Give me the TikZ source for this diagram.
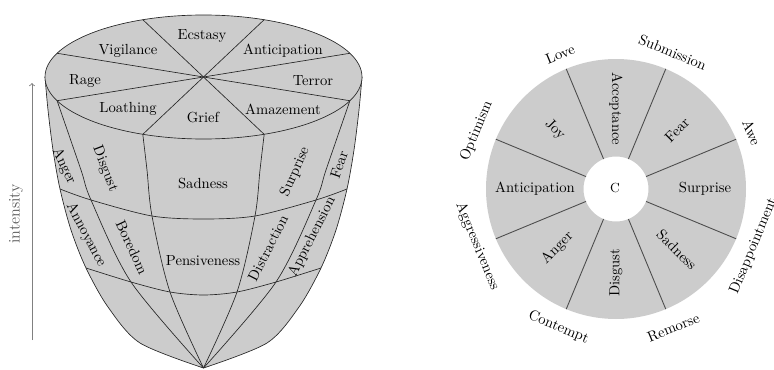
\documentclass[tikz,border=0pt]{standalone}
\usepackage{tikz}

\begin{document}
\begin{tikzpicture}[x=0.024cm, y=0.024cm,
    region/.style={fill=gray!40},
    grid/.style={line width=0.45pt, draw=black!85},
    spoke/.style={line width=0.6pt, draw=black!70}]
    \useasboundingbox (0,0) rectangle (774,369);

    % Intensity axis
    \coordinate (axisfoot) at (32, 29);
    \coordinate (axishead) at (32, 286);
    \draw[->, gray, line width=0.6pt] (axisfoot) -- (axishead);
    \node[rotate=90, black!65, font=\fontsize{11}{13}\selectfont] (intensity) at (16, 155) {intensity};

    % Body of the cone
    \coordinate (apex) at (203.5, 1);
    \fill[region] plot[smooth] coordinates {(45,292) (48,259) (53,219) (60,180) (71,139) (86,101) (108,62) (140,26) (203.5,1)}
        -- plot[smooth] coordinates {(203.5,1) (267,26) (299,62) (321,101) (336,139) (347,180) (354,219) (359,259) (362,292)} -- cycle;

    % Meridians
    \draw[grid] plot[smooth] coordinates {(57.1,268.3) (81,199) (91,169) (131,87) (203.5,1)};
    \draw[grid] plot[smooth] coordinates {(142.8,234.7) (147,199) (152,153) (170,77) (203.5,1)};
    \draw[grid] plot[smooth] coordinates {(264.2,234.7) (260,199) (255,153) (237,77) (203.5,1)};
    \draw[grid] plot[smooth] coordinates {(349.9,268.3) (326,199) (316,169) (276,87) (203.5,1)};

    % Rings
    \draw[grid] plot[smooth] coordinates {(60,180) (91,169) (152,153) (203.5,150) (255,153) (316,169) (347,180)};
    \draw[grid] plot[smooth] coordinates {(86,101) (131,87) (170,77) (203.5,74) (237,77) (276,87) (321,101)};

    % Outline
    \draw[grid] plot[smooth] coordinates {(45,292) (48,259) (53,219) (60,180) (71,139) (86,101) (108,62) (140,26) (203.5,1)};
    \draw[grid] plot[smooth] coordinates {(203.5,1) (267,26) (299,62) (321,101) (336,139) (347,180) (354,219) (359,259) (362,292)};

    % Top face
    \coordinate (top) at (203.5, 292);
    \filldraw[region, grid] (top) ellipse [x radius=158.5, y radius=62];
    \begin{scope}[shift={(top)}]
        \foreach \a in {22.5, 67.5, 112.5, 157.5}
            \draw[grid] (\a:158.5 and 62) -- (\a+180:158.5 and 62);
    \end{scope}

    % Nodes top face
    \node (ecstasy) at (202, 333) {Ecstasy};
    \node (vigilance) at (128, 318) {Vigilance};
    \node (anticipation) at (283, 318) {Anticipation};
    \node (rage) at (85, 288) {Rage};
    \node (terror) at (313, 288) {Terror};
    \node (loathing) at (128, 260) {Loathing};
    \node (grief) at (203, 252) {Grief};
    \node (amazement) at (283, 260) {Amazement};

    % Nodes sides
    \node[rotate=-65] (anger) at (64, 203) {Anger};
    \node[rotate=-69] (disgust) at (105, 200) {Disgust};
    \node (sadness) at (203, 186) {Sadness};
    \node[rotate=66] (surprise) at (295, 197) {Surprise};
    \node[rotate=71] (fear) at (339, 204) {Fear};
    \node[rotate=-62] (annoyance) at (86, 134) {Annoyance};
    \node[rotate=-65] (boredom) at (132, 122) {Boredom};
    \node (pensiveness) at (203, 108) {Pensiveness};
    \node[rotate=63] (distraction) at (268, 121) {Distraction};
    \node[rotate=63] (apprehension) at (312, 132) {Apprehension};

    % Wheel
    \coordinate (hub) at (616, 180);
    \fill[region, even odd rule] (hub) circle[radius=130] (hub) circle[radius=32.5];
    \begin{scope}[shift={(hub)}]
        \foreach \a in {22.5, 67.5, ..., 337.5}
            \draw[spoke] (\a:32.5) -- (\a:130);

        \node[font=\small] (centre) at (-1, 1) {C};

        % Nodes inside the ring
        \node[rotate=-90] (w-acceptance) at (90:80) {Acceptance};
        \node[rotate=45] (w-fear) at (44:85) {Fear};
        \node (w-surprise) at (0:89) {Surprise};
        \node[rotate=-45] (w-sadness) at (-45:86) {Sadness};
        \node[rotate=90] (w-disgust) at (-90:84) {Disgust};
        \node[rotate=45] (w-anger) at (-135:83) {Anger};
        \node (w-anticipation) at (180:81) {Anticipation};
        \node[rotate=-45] (w-joy) at (136:85) {Joy};

        % Nodes around the ring
        \node[rotate=22.5] (love) at (112.5:146) {Love};
        \node[rotate=-22.5] (submission) at (67.5:148) {Submission};
        \node[rotate=-67.5] (awe) at (22.5:147) {Awe};
        \node[rotate=67.5] (disappointment) at (-22.5:149) {Disappointment};
        \node[rotate=22.5] (remorse) at (-67.5:150) {Remorse};
        \node[rotate=-22.5] (contempt) at (-112.5:150) {Contempt};
        \node[rotate=-67.5] (aggressiveness) at (-157.5:150) {Aggressiveness};
        \node[rotate=67.5] (optimism) at (157.5:151) {Optimism};
    \end{scope}
\end{tikzpicture}
\end{document}
